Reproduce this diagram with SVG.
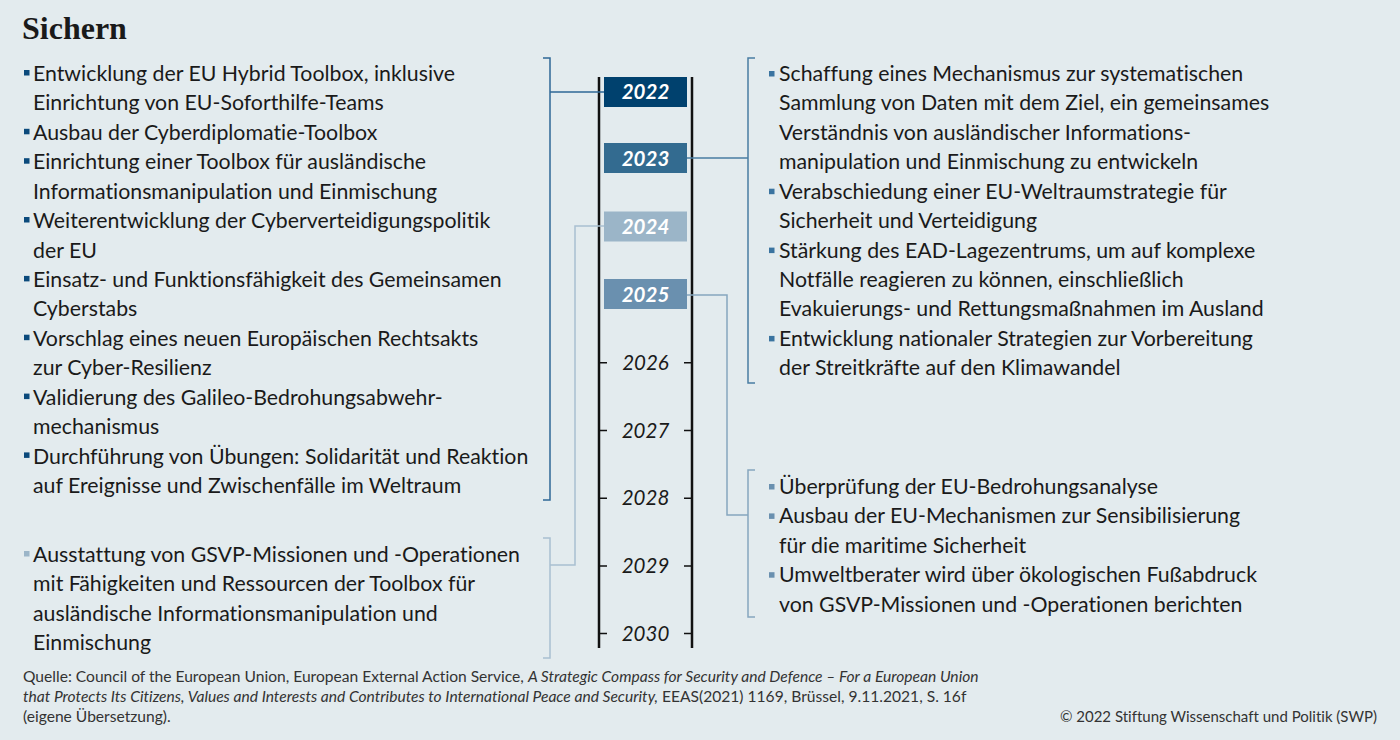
<svg xmlns="http://www.w3.org/2000/svg" width="1400" height="740" viewBox="0 0 1400 740">
<style>
text{font-variant-ligatures:none}
.t{font-family:Lato,"Noto Sans",sans-serif;font-size:21.3px;fill:#1a1a1a}
.yr{font-family:Lato,"Noto Sans",sans-serif;font-size:20.5px;font-style:italic;text-anchor:middle;fill:#1a1a1a}
.yb{font-family:Lato,"Noto Sans",sans-serif;font-size:20.5px;font-style:italic;font-weight:bold;text-anchor:middle;fill:#fff}
.f{font-family:Lato,"Noto Sans",sans-serif;font-size:15.6px;fill:#333}
.c{font-size:15px;text-anchor:end}
.ln{fill:none;stroke-width:1.5}
</style>
<rect width="1400" height="740" fill="#e3ebee"/>
<text x="22" y="39" font-family="Liberation Serif,serif" font-weight="bold" font-size="32" fill="#1a1a1a">Sichern</text>

<g id="timeline" stroke="#111" stroke-width="2.5" fill="none">
<line x1="599" y1="77" x2="599" y2="648"/>
<line x1="692" y1="77" x2="692" y2="648"/>
<path d="M599 362.8h8M684 362.8h8M599 430.5h8M684 430.5h8M599 498.2h8M684 498.2h8M599 565.9h8M684 565.9h8M599 633.6h8M684 633.6h8" stroke-width="1.5"/>
</g>

<g id="connectors">
<path class="ln" stroke="#2f6896" d="M543 58h7v442h-7M550 92h54"/>
<path class="ln" stroke="#a9c0d1" d="M543 538h7v120h-7M550 565h25v-339h29"/>
<path class="ln" stroke="#4a7ea3" d="M755 58h-7v325h7M687 158h61"/>
<path class="ln" stroke="#86a6bf" d="M755 470h-7v147h7M687 295h40v220h21"/>
</g>

<g id="y2022"><rect x="604" y="77" width="83" height="30" fill="#00416e"/><text class="yb" x="645.5" y="99">2022</text></g>
<g id="y2023"><rect x="604" y="143" width="83" height="30" fill="#336b90"/><text class="yb" x="645.5" y="165.5">2023</text></g>
<g id="y2024"><rect x="604" y="211.5" width="83" height="30" fill="#9bb5c8"/><text class="yb" x="645.5" y="234">2024</text></g>
<g id="y2025"><rect x="604" y="279" width="83" height="30" fill="#6a90af"/><text class="yb" x="645.5" y="301.5">2025</text></g>
<g id="y2026"><text class="yr" x="645.5" y="370">2026</text></g>
<g id="y2027"><text class="yr" x="645.5" y="437.5">2027</text></g>
<g id="y2028"><text class="yr" x="645.5" y="505">2028</text></g>
<g id="y2029"><text class="yr" x="645.5" y="573">2029</text></g>
<g id="y2030"><text class="yr" x="645.5" y="640.5">2030</text></g>

<g id="left1">
<g fill="#0b4a7c">
<rect x="24" y="70" width="5.5" height="5.5"/>
<rect x="24" y="128.8" width="5.5" height="5.5"/>
<rect x="24" y="158.2" width="5.5" height="5.5"/>
<rect x="24" y="217" width="5.5" height="5.5"/>
<rect x="24" y="275.9" width="5.5" height="5.5"/>
<rect x="24" y="334.7" width="5.5" height="5.5"/>
<rect x="24" y="393.6" width="5.5" height="5.5"/>
<rect x="24" y="452.4" width="5.5" height="5.5"/>
</g>
<text class="t" x="33" y="81">Entwicklung der EU Hybrid Toolbox, inklusive</text>
<text class="t" x="33" y="110.4">Einrichtung von EU-Soforthilfe-Teams</text>
<text class="t" x="33" y="139.8">Ausbau der Cyberdiplomatie-Toolbox</text>
<text class="t" x="33" y="169.3">Einrichtung einer Toolbox für ausländische</text>
<text class="t" x="33" y="198.7">Informationsmanipulation und Einmischung</text>
<text class="t" x="33" y="228.1">Weiterentwicklung der Cyberverteidigungspolitik</text>
<text class="t" x="33" y="257.6">der EU</text>
<text class="t" x="33" y="287">Einsatz- und Funktionsfähigkeit des Gemeinsamen</text>
<text class="t" x="33" y="316.4">Cyberstabs</text>
<text class="t" x="33" y="345.9">Vorschlag eines neuen Europäischen Rechtsakts</text>
<text class="t" x="33" y="375.3">zur Cyber-Resilienz</text>
<text class="t" x="33" y="404.7">Validierung des Galileo-Bedrohungsabwehr-</text>
<text class="t" x="33" y="434.2">mechanismus</text>
<text class="t" x="33" y="463.6">Durchführung von Übungen: Solidarität und Reaktion</text>
<text class="t" x="33" y="493">auf Ereignisse und Zwischenfälle im Weltraum</text>
</g>

<g id="left2">
<rect x="24" y="551" width="5.5" height="5.5" fill="#9bb5c8"/>
<text class="t" x="33" y="562">Ausstattung von GSVP-Missionen und -Operationen</text>
<text class="t" x="33" y="591.4">mit Fähigkeiten und Ressourcen der Toolbox für</text>
<text class="t" x="33" y="620.8">ausländische Informationsmanipulation und</text>
<text class="t" x="33" y="650.2">Einmischung</text>
</g>

<g id="right1">
<g fill="#3b74a0">
<rect x="769" y="71" width="5.5" height="5.5"/>
<rect x="769" y="188.7" width="5.5" height="5.5"/>
<rect x="769" y="247.6" width="5.5" height="5.5"/>
<rect x="769" y="335.9" width="5.5" height="5.5"/>
</g>
<text class="t" x="779" y="81">Schaffung eines Mechanismus zur systematischen</text>
<text class="t" x="779" y="110.4">Sammlung von Daten mit dem Ziel, ein gemeinsames</text>
<text class="t" x="779" y="139.8">Verständnis von ausländischer Informations-</text>
<text class="t" x="779" y="169.3">manipulation und Einmischung zu entwickeln</text>
<text class="t" x="779" y="198.7">Verabschiedung einer EU-Weltraumstrategie für</text>
<text class="t" x="779" y="228.1">Sicherheit und Verteidigung</text>
<text class="t" x="779" y="257.6">Stärkung des EAD-Lagezentrums, um auf komplexe</text>
<text class="t" x="779" y="287">Notfälle reagieren zu können, einschließlich</text>
<text class="t" x="779" y="316.4">Evakuierungs- und Rettungsmaßnahmen im Ausland</text>
<text class="t" x="779" y="345.9">Entwicklung nationaler Strategien zur Vorbereitung</text>
<text class="t" x="779" y="375.3">der Streitkräfte auf den Klimawandel</text>
</g>

<g id="right2">
<g fill="#6a90af">
<rect x="769" y="484" width="5.5" height="5.5"/>
<rect x="769" y="513.4" width="5.5" height="5.5"/>
<rect x="769" y="572.2" width="5.5" height="5.5"/>
</g>
<text class="t" x="779" y="494">Überprüfung der EU-Bedrohungsanalyse</text>
<text class="t" x="779" y="523.4">Ausbau der EU-Mechanismen zur Sensibilisierung</text>
<text class="t" x="779" y="552.8">für die maritime Sicherheit</text>
<text class="t" x="779" y="582.2">Umweltberater wird über ökologischen Fußabdruck</text>
<text class="t" x="779" y="611.6">von GSVP-Missionen und -Operationen berichten</text>
</g>

<g id="footer">
<text class="f" x="23" y="682">Quelle: Council of the European Union, European External Action Service, <tspan font-style="italic">A Strategic Compass for Security and Defence – For a European Union</tspan></text>
<text class="f" x="23" y="702"><tspan font-style="italic">that Protects Its Citizens, Values and Interests and Contributes to International Peace and Security,</tspan> EEAS(2021) 1169, Brüssel, 9.11.2021, S. 16f</text>
<text class="f" x="23" y="722">(eigene Übersetzung).</text>
<text class="f c" x="1377" y="722">© 2022 Stiftung Wissenschaft und Politik (SWP)</text>
</g>
</svg>
